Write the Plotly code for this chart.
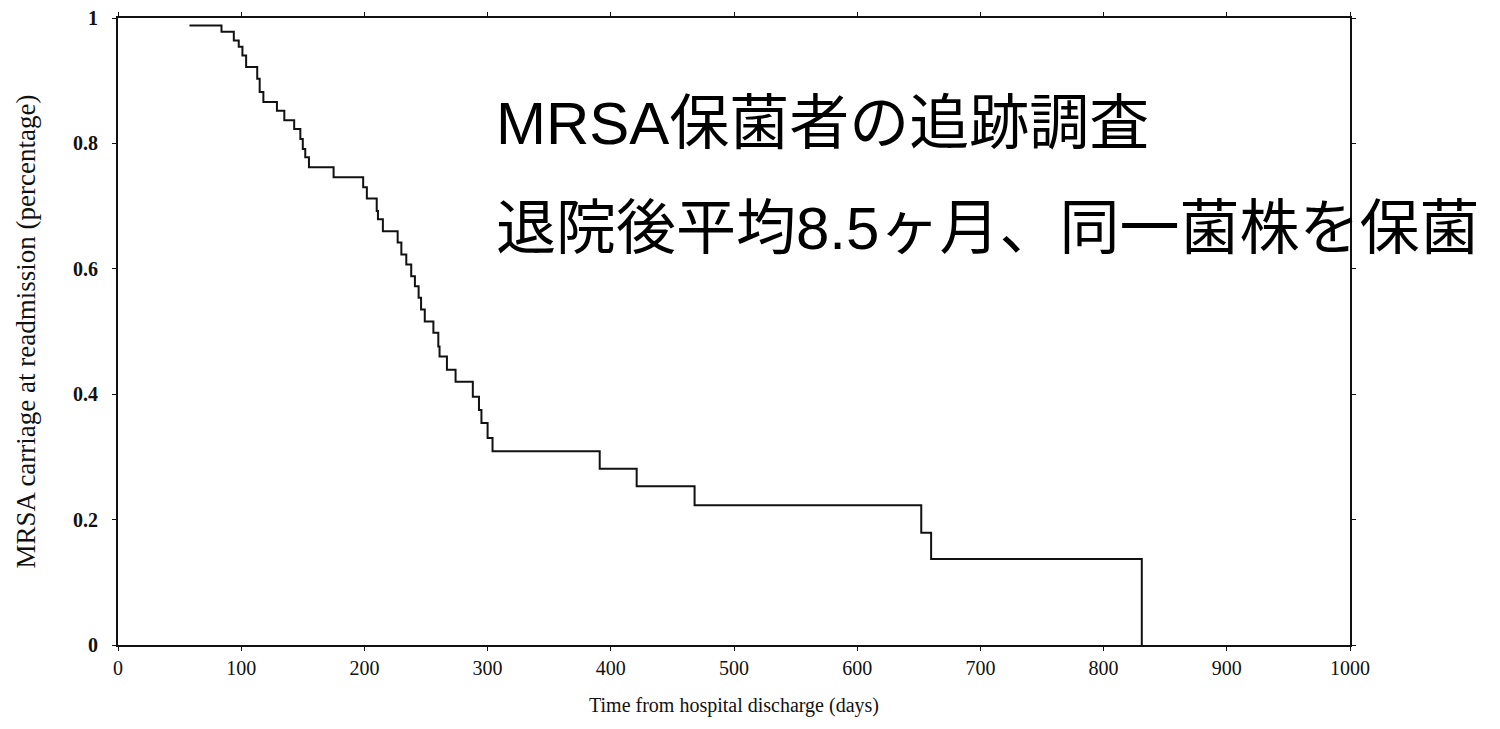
import plotly.graph_objects as go

# Kaplan-Meier style step data (days, proportion still carrying MRSA)
days = [58, 84, 94, 98, 101, 104, 113, 115, 118, 129, 135, 143, 148, 150, 152, 155,
        175, 199, 202, 210, 211, 215, 227, 230, 234, 238, 241, 244, 246, 249, 256,
        260, 261, 267, 274, 288, 293, 295, 300, 304, 391, 421, 468, 652, 660, 831]
carriage = [0.988, 0.978, 0.964, 0.954, 0.940, 0.922, 0.903, 0.882, 0.866, 0.852,
            0.837, 0.823, 0.807, 0.791, 0.778, 0.762, 0.746, 0.730, 0.712, 0.692,
            0.679, 0.660, 0.642, 0.623, 0.607, 0.588, 0.572, 0.554, 0.535, 0.516,
            0.498, 0.476, 0.460, 0.439, 0.420, 0.396, 0.375, 0.354, 0.330, 0.309,
            0.281, 0.253, 0.223, 0.179, 0.137, 0.0]

x_ticks = [0, 100, 200, 300, 400, 500, 600, 700, 800, 900, 1000]
y_ticks = [0, 0.2, 0.4, 0.6, 0.8, 1]
y_tick_labels = ["0", "0.2", "0.4", "0.6", "0.8", "1"]

note_line1 = "MRSA保菌者の追跡調査"
note_line2 = "退院後平均8.5ヶ月、同一菌株を保菌"

fig = go.Figure()
fig.add_trace(go.Scatter(
    x=days, y=carriage, mode="lines", line_shape="hv",
    line=dict(color="#111111", width=2), showlegend=False, hoverinfo="x+y"))

serif = "Liberation Serif, Times New Roman, serif"
jp = "Liberation Sans, Noto Sans CJK JP, sans-serif"
axis_common = dict(showline=True, linecolor="#111", linewidth=2, mirror="ticks",
                   ticks="outside", ticklen=4, tickcolor="#111", showgrid=False,
                   zeroline=False, automargin=False, ticklabeloverflow="allow")

fig.update_layout(
    width=1484, height=713,
    margin=dict(l=110, r=142, t=10, b=76, autoexpand=False),
    paper_bgcolor="white", plot_bgcolor="white",
    xaxis=dict(range=[0, 1000], tickvals=x_ticks,
               tickfont=dict(family=serif, size=20, color="#111"),
               title=dict(text="Time from hospital discharge (days)",
                          font=dict(family=serif, size=20, color="#111"), standoff=20),
               **axis_common),
    yaxis=dict(range=[0, 1], tickvals=y_ticks, ticktext=y_tick_labels,
               tickfont=dict(family=serif, size=20, color="#111", weight="bold"),
               ticklabelstandoff=10,
               title=dict(text="MRSA carriage at readmission (percentage)",
                          font=dict(family=serif, size=27, color="#111"), standoff=30),
               **axis_common),
    font=dict(family=jp),
)

fig.add_annotation(x=305, y=0.831, xref="x", yref="y", text=note_line1,
                   showarrow=False, xanchor="left", yanchor="middle",
                   font=dict(family=jp, size=60, color="black"))
fig.add_annotation(x=305, y=0.665, xref="x", yref="y", text=note_line2,
                   showarrow=False, xanchor="left", yanchor="middle",
                   font=dict(family=jp, size=60, color="black"))

fig.write_html("out.html")
